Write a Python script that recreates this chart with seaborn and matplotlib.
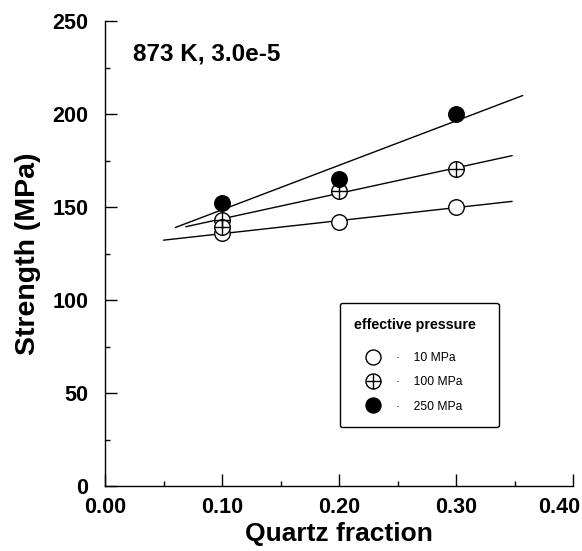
import numpy as np
import pandas as pd
import matplotlib
matplotlib.use("Agg")
import matplotlib.pyplot as plt
import seaborn as sns
from matplotlib.lines import Line2D
from matplotlib.legend_handler import HandlerTuple
from matplotlib.ticker import MultipleLocator, FuncFormatter
import matplotlib.transforms as mtransforms

# ---- data ----
quartz = [0.1, 0.2, 0.3]
s10 = [136.0, 142.0, 150.0]
s100 = [143.0, 158.6, 170.4]
s250 = [152.2, 165.0, 200.0]
extra_x = [0.1]          # additional 100 MPa point not used in fit
extra_y = [139.0]
labels = ["10 MPa", "100 MPa", "250 MPa"]
xticks = [0.0, 0.1, 0.2, 0.3, 0.4]
# x-extent of each fitted line
fit_start = [0.050, 0.069, 0.060]
fit_end = [0.348, 0.348, 0.357]

sns.set_theme(style="ticks")
plt.rcParams["font.family"] = ["Liberation Sans", "DejaVu Sans"]
plt.rcParams["text.color"] = "black"
plt.rcParams["axes.labelcolor"] = "black"
plt.rcParams["xtick.color"] = "black"
plt.rcParams["ytick.color"] = "black"
plt.rcParams["axes.edgecolor"] = "black"

fig = plt.figure(figsize=(5.82, 5.51), dpi=100)
ax = fig.add_axes([105 / 582, 65 / 551, 468 / 582, 465 / 551])

series = [s10, s100, s250]
for ys, x0, x1 in zip(series, fit_start, fit_end):
    k, b = np.polyfit(quartz, ys, 1)
    xs = np.array([x0, x1])
    df = pd.DataFrame({"x": xs, "y": k * xs + b})
    sns.lineplot(data=df, x="x", y="y", ax=ax, color="black", lw=1.0, zorder=2)

S = 125
sns.scatterplot(x=quartz, y=s10, ax=ax, marker="o", s=S, facecolor="white",
                edgecolor="black", linewidth=1.0, zorder=3)
allx100 = quartz + extra_x
ally100 = s100 + extra_y
sns.scatterplot(x=allx100, y=ally100, ax=ax, marker="o", s=S, facecolor="white",
                edgecolor="black", linewidth=1.0, zorder=3)
sns.scatterplot(x=allx100, y=ally100, ax=ax, marker="+", s=S, color="black",
                linewidth=1.0, zorder=4)
sns.scatterplot(x=quartz, y=s250, ax=ax, marker="o", s=S, color="black",
                edgecolor="black", linewidth=1.0, zorder=3)

ax.set_xlim(0, 0.40)
ax.set_ylim(0, 250)
ax.set_xticks(xticks)
ax.xaxis.set_minor_locator(MultipleLocator(0.05))
ax.yaxis.set_major_locator(MultipleLocator(50))
ax.yaxis.set_minor_locator(MultipleLocator(25))
last = xticks[-1]
ax.xaxis.set_major_formatter(FuncFormatter(
    lambda v, p: "" if abs(v - last) < 1e-9 else f"{v:.2f}"))
for s in ["top", "right"]:
    ax.spines[s].set_visible(False)
for s in ["left", "bottom"]:
    ax.spines[s].set_linewidth(1.0)
    ax.spines[s].set_color("black")
XPAD = 8
ax.tick_params(which="major", direction="in", length=8.5, width=1.0, color="black")
ax.tick_params(which="minor", direction="in", length=3.5, width=1.0, color="black")
ax.tick_params(axis="y", which="major", pad=12, labelsize=15.5)
ax.tick_params(axis="x", which="major", pad=XPAD, labelsize=15.5)
for lab in ax.get_xticklabels() + ax.get_yticklabels():
    lab.set_fontweight("bold")
    lab.set_color("black")
# last x tick label, shifted left so it stays inside the figure (as in the reference)
off = mtransforms.ScaledTranslation(-14 / 100, -XPAD / 72, fig.dpi_scale_trans)
ax.text(last, 0, f"{last:.2f}", transform=ax.get_xaxis_transform() + off,
        ha="center", va="top", fontsize=15.5, fontweight="bold", color="black")

ax.set_xlabel("Quartz fraction", fontsize=19, fontweight="bold", labelpad=3)
ax.set_ylabel("Strength (MPa)", fontsize=20.5, fontweight="bold", labelpad=8)

ax.text(0.060, 0.93, "873 K, 3.0e-5", transform=ax.transAxes, fontsize=17.5,
        fontweight="bold", ha="left", va="center", color="black")

h10 = Line2D([], [], ls="none", marker="o", ms=10.8, mfc="white", mec="black", mew=1.0)
h100a = Line2D([], [], ls="none", marker="o", ms=10.8, mfc="white", mec="black", mew=1.0)
h100b = Line2D([], [], ls="none", marker="+", ms=10.8, mec="black", mew=1.0)
h250 = Line2D([], [], ls="none", marker="o", ms=10.8, mfc="black", mec="black", mew=1.0)
leg = ax.legend([h10, (h100a, h100b), h250], ["\u00b7    " + l for l in labels],
                handler_map={tuple: HandlerTuple(ndivide=1)},
                title="effective pressure  ", loc="upper left",
                bbox_to_anchor=(0.502, 0.3935), borderaxespad=0, fontsize=8.7,
                title_fontproperties={"weight": "bold", "size": 10.3},
                frameon=True, fancybox=True, edgecolor="black", framealpha=1,
                borderpad=1.2, handlelength=3.1, handletextpad=0.3,
                labelspacing=1.0, alignment="left", labelcolor="black")
leg.get_frame().set_linewidth(1.0)
leg.get_title().set_color("black")
leg._legend_box.sep = 15
leg._legend_title_box.align = "center"

fig.savefig("out.png", dpi=100)
